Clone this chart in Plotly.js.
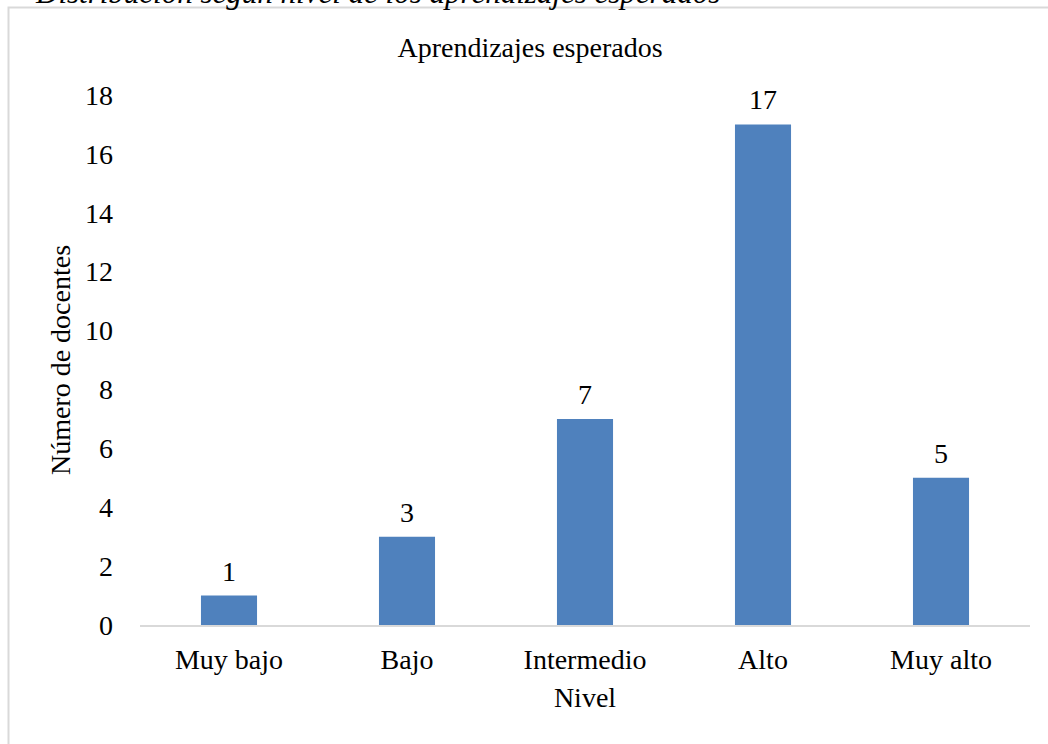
<!DOCTYPE html>
<html>
<head>
<meta charset="utf-8">
<script src="https://cdn.plot.ly/plotly-3.0.1.min.js"></script>
<style>html,body{margin:0;padding:0;background:#fff;overflow:hidden}</style>
</head>
<body>
<div id="chart" style="width:1048px;height:744px"></div>
<script>
const categories = ["Muy bajo", "Bajo", "Intermedio", "Alto", "Muy alto"];
const docentes = [1, 3, 7, 17, 5];
const yTicks = [0, 2, 4, 6, 8, 10, 12, 14, 16, 18];
const chartTitle = "Aprendizajes esperados";
const captionText = "Distribución según nivel de los aprendizajes esperados";
const xTitle = "Nivel";
const yTitle = "Número de docentes";

const W = 1048, H = 744;
const m = {l: 140, r: 18, t: 95, b: 119};
const pw = W - m.l - m.r, ph = H - m.t - m.b;
function px(x) { return (x - m.l) / pw; }
function py(y) { return (H - m.b - y) / ph; }

const font = "'Liberation Serif', 'Times New Roman', serif";
const FS = 28;

const trace = {
  type: "bar",
  x: categories,
  y: docentes,
  marker: {color: "#4F81BD"},
  hoverinfo: "none"
};

const valueLabels = categories.map((c, i) => ({
  text: String(docentes[i]), x: c, y: docentes[i], xref: "x", yref: "y",
  xanchor: "center", yanchor: "bottom", yshift: 7, showarrow: false,
  font: {family: font, size: FS, color: "#000"}
}));

const layout = {
  width: W, height: H,
  margin: m,
  paper_bgcolor: "#fff",
  plot_bgcolor: "#fff",
  font: {family: font, size: FS, color: "#000"},
  showlegend: false,
  bargap: 0.685,
  title: {text: chartTitle, font: {family: font, size: FS, color: "#000"}, x: 530 / W, xanchor: "center", y: 1 - 47/H, yanchor: "middle"},
  xaxis: {
    type: "category",
    showline: true, linecolor: "#D9D9D9", linewidth: 2,
    showgrid: false, zeroline: false, ticks: "",
    ticklabelstandoff: 8,
    tickfont: {family: font, size: FS, color: "#000"},
    title: {text: xTitle, font: {family: font, size: FS, color: "#000"}, standoff: 14},
    automargin: false
  },
  yaxis: {
    range: [0, 18],
    tickvals: yTicks,
    showline: false, showgrid: false, zeroline: false, ticks: "",
    ticklabelstandoff: 26,
    tickfont: {family: font, size: FS, color: "#000"},
    title: {text: yTitle, font: {family: font, size: FS, color: "#000"}, standoff: 6},
    automargin: false
  },
  shapes: [
    {type: "rect", xref: "paper", yref: "paper", x0: px(8.5), x1: px(W + 5), y0: py(H + 5), y1: py(7.5),
     line: {color: "#D9D9D9", width: 2}, fillcolor: "rgba(0,0,0,0)", layer: "below"}
  ],
  annotations: valueLabels.concat([
    {text: captionText, xref: "paper", yref: "paper", x: px(33), xanchor: "left",
     y: py(0), yanchor: "middle", yshift: 7, showarrow: false,
     font: {family: font, size: 31, color: "#000", style: "italic"}}
  ])
};

Plotly.newPlot("chart", [trace], layout, {displayModeBar: false, staticPlot: true});
</script>
</body>
</html>
